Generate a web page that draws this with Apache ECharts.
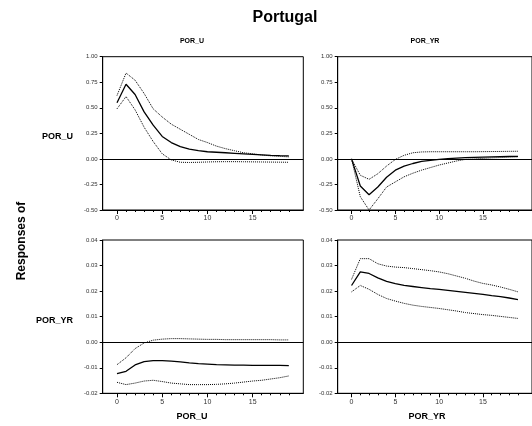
<!DOCTYPE html>
<html><head><meta charset="utf-8">
<script src="https://cdn.jsdelivr.net/npm/echarts@6/dist/echarts.min.js"></script>
<style>html,body{margin:0;padding:0;background:#fff}#c{width:532px;height:426px}</style>
</head><body><div id="c"></div>
<script>
const periods = [0,1,2,3,4,5,6,7,8,9,10,11,12,13,14,15,16,17,18,19];
const xTickLabels = [0,5,10,15];
const topYTicks = [-0.5,-0.25,0,0.25,0.5,0.75,1.0];
const botYTicks = [-0.02,-0.01,0,0.01,0.02,0.03,0.04];

// POR_U response to POR_U
const uu_mid = [0.55,0.73,0.63,0.46,0.33,0.22,0.16,0.12,0.095,0.08,0.07,0.065,0.06,0.055,0.05,0.045,0.04,0.035,0.032,0.03];
const uu_hi  = [0.62,0.84,0.77,0.64,0.49,0.41,0.34,0.29,0.24,0.19,0.16,0.125,0.10,0.08,0.06,0.05,0.038,0.03,0.025,0.02];
const uu_lo  = [0.49,0.61,0.48,0.31,0.17,0.05,-0.01,-0.033,-0.035,-0.033,-0.03,-0.028,-0.027,-0.027,-0.028,-0.029,-0.03,-0.031,-0.032,-0.033];
// POR_U response to POR_YR
const uy_mid = [0,-0.265,-0.35,-0.275,-0.18,-0.11,-0.07,-0.045,-0.025,-0.015,-0.005,0.003,0.008,0.012,0.015,0.018,0.02,0.022,0.024,0.025];
const uy_hi  = [0,-0.16,-0.2,-0.145,-0.07,-0.005,0.035,0.06,0.068,0.07,0.07,0.07,0.07,0.07,0.07,0.071,0.072,0.073,0.074,0.075];
const uy_lo  = [0,-0.37,-0.5,-0.39,-0.275,-0.225,-0.175,-0.14,-0.11,-0.085,-0.06,-0.04,-0.02,-0.005,0.0,0.005,0.01,0.013,0.016,0.02];
// POR_YR response to POR_U
const yu_mid = [-0.0123,-0.0114,-0.0089,-0.0076,-0.0072,-0.0072,-0.0074,-0.0077,-0.0081,-0.0084,-0.0086,-0.0088,-0.0089,-0.009,-0.009,-0.0091,-0.0091,-0.0091,-0.0091,-0.0092];
const yu_hi  = [-0.0088,-0.0061,-0.0025,-0.0003,0.0008,0.0012,0.0014,0.0014,0.0013,0.0012,0.0011,0.0011,0.001,0.001,0.001,0.001,0.001,0.001,0.0009,0.0009];
const yu_lo  = [-0.0157,-0.0166,-0.016,-0.0152,-0.0149,-0.0154,-0.016,-0.0163,-0.0166,-0.0166,-0.0166,-0.0165,-0.0163,-0.016,-0.0156,-0.0152,-0.0149,-0.0144,-0.0139,-0.0132];
// POR_YR response to POR_YR
const yy_mid = [0.0222,0.0275,0.0269,0.0252,0.0238,0.0229,0.0222,0.0218,0.0214,0.021,0.0207,0.0203,0.0199,0.0195,0.0191,0.0187,0.0182,0.0178,0.0173,0.0167];
const yy_hi  = [0.0246,0.0327,0.0327,0.0307,0.0298,0.0294,0.0292,0.0288,0.0284,0.028,0.0275,0.0268,0.0259,0.025,0.0239,0.023,0.0224,0.0216,0.0207,0.0197];
const yy_lo  = [0.0197,0.0222,0.0207,0.0187,0.0171,0.0161,0.0152,0.0145,0.014,0.0136,0.0132,0.0127,0.0122,0.0116,0.0112,0.0108,0.0105,0.0101,0.0097,0.0093];

const FONT = 'Liberation Sans, Arial, sans-serif';
const grids = [
  {left:102.7, top:56.7, width:200.6, height:153.3},
  {left:337.7, top:56.7, width:200.6, height:153.3},
  {left:102.7, top:240, width:200.6, height:153.3},
  {left:337.7, top:240, width:200.6, height:153.3}
].map(g => Object.assign(g, {show:true, borderColor:'#000', borderWidth:1, backgroundColor:'transparent'}));

const xMin = -1.58, xMax = 20.6;
const xAxes = [], yAxes = [];
grids.forEach((g,i) => {
  xAxes.push({type:'value', gridIndex:i, min:xMin, max:xMax, splitLine:{show:false},
    axisLine:{show:true, onZero:false, lineStyle:{color:'#000', width:1}},
    axisTick:{show:true, customValues:periods, length:2, lineStyle:{color:'#000'}},
    axisLabel:{show:true, customValues:xTickLabels, fontSize:7, color:'#333', fontFamily:FONT, margin:5}});
  xAxes.push({type:'value', gridIndex:i, min:xMin, max:xMax, position:'bottom', splitLine:{show:false},
    axisLine:{show:false, onZero:false},
    axisTick:{show:true, customValues:xTickLabels, length:4, lineStyle:{color:'#000'}},
    axisLabel:{show:false}});
  const top = i < 2;
  yAxes.push({type:'value', gridIndex:i, min: top?-0.5:-0.02, max: top?1:0.04, interval: top?0.25:0.01,
    splitLine:{show:false},
    axisLine:{show:true, onZero:false, lineStyle:{color:'#000', width:1}},
    axisTick:{show:true, length:3, lineStyle:{color:'#000'}},
    axisLabel:{fontSize:6, color:'#333', fontFamily:FONT, margin:5, formatter:v => v.toFixed(2)}});
});

const panels = [[uu_mid,uu_hi,uu_lo],[uy_mid,uy_hi,uy_lo],[yu_mid,yu_hi,yu_lo],[yy_mid,yy_hi,yy_lo]];
const series = [];
panels.forEach((p,i) => {
  const pts = arr => periods.map((t,k) => [t, arr[k]]);
  series.push({type:'line', xAxisIndex:2*i, yAxisIndex:i, data:pts(p[0]), symbol:'none', silent:true,
    lineStyle:{color:'#000', width:1.3},
    markLine:{symbol:['none','none'], silent:true, label:{show:false}, animation:false,
      lineStyle:{color:'#000', width:1, type:'solid'}, data:[{yAxis:0}]}});
  series.push({type:'line', xAxisIndex:2*i, yAxisIndex:i, data:pts(p[1]), symbol:'none', silent:true,
    lineStyle:{color:'#000', width:1, type:[1,1]}});
  series.push({type:'line', xAxisIndex:2*i, yAxisIndex:i, data:pts(p[2]), symbol:'none', silent:true,
    lineStyle:{color:'#000', width:1, type:[1,1]}});
});

const bold = (size) => ({fontFamily:FONT, fontWeight:'bold', fontSize:size, color:'#000'});
const titles = [
  {text:'Portugal', left:285, top:18, textStyle:bold(16)},
  {text:'POR_U', left:192, top:41, textStyle:bold(7)},
  {text:'POR_YR', left:425, top:41, textStyle:bold(7)},
  {text:'POR_U', left:192, top:417, textStyle:bold(9)},
  {text:'POR_YR', left:427, top:417, textStyle:bold(9)}
];

const chart = echarts.init(document.getElementById('c'), null, {renderer:'canvas'});
chart.setOption({
  animation:false,
  backgroundColor:'#fff',
  title: titles.map(t => ({text:t.text, left:t.left, top:t.top, textAlign:'center', textVerticalAlign:'middle', padding:0, textStyle:t.textStyle})),
  grid: grids,
  xAxis: xAxes,
  yAxis: yAxes,
  series: series,
  graphic: [
    {type:'text', x:73, y:137, style:{text:'POR_U', align:'right', verticalAlign:'middle', font:'bold 9px '+FONT, fill:'#000'}},
    {type:'text', x:73, y:321, style:{text:'POR_YR', align:'right', verticalAlign:'middle', font:'bold 9px '+FONT, fill:'#000'}},
    {type:'text', x:22, y:241, rotation:Math.PI/2, style:{text:'Responses of', align:'center', verticalAlign:'middle', font:'bold 12px '+FONT, fill:'#000'}}
  ]
});
</script></body></html>
